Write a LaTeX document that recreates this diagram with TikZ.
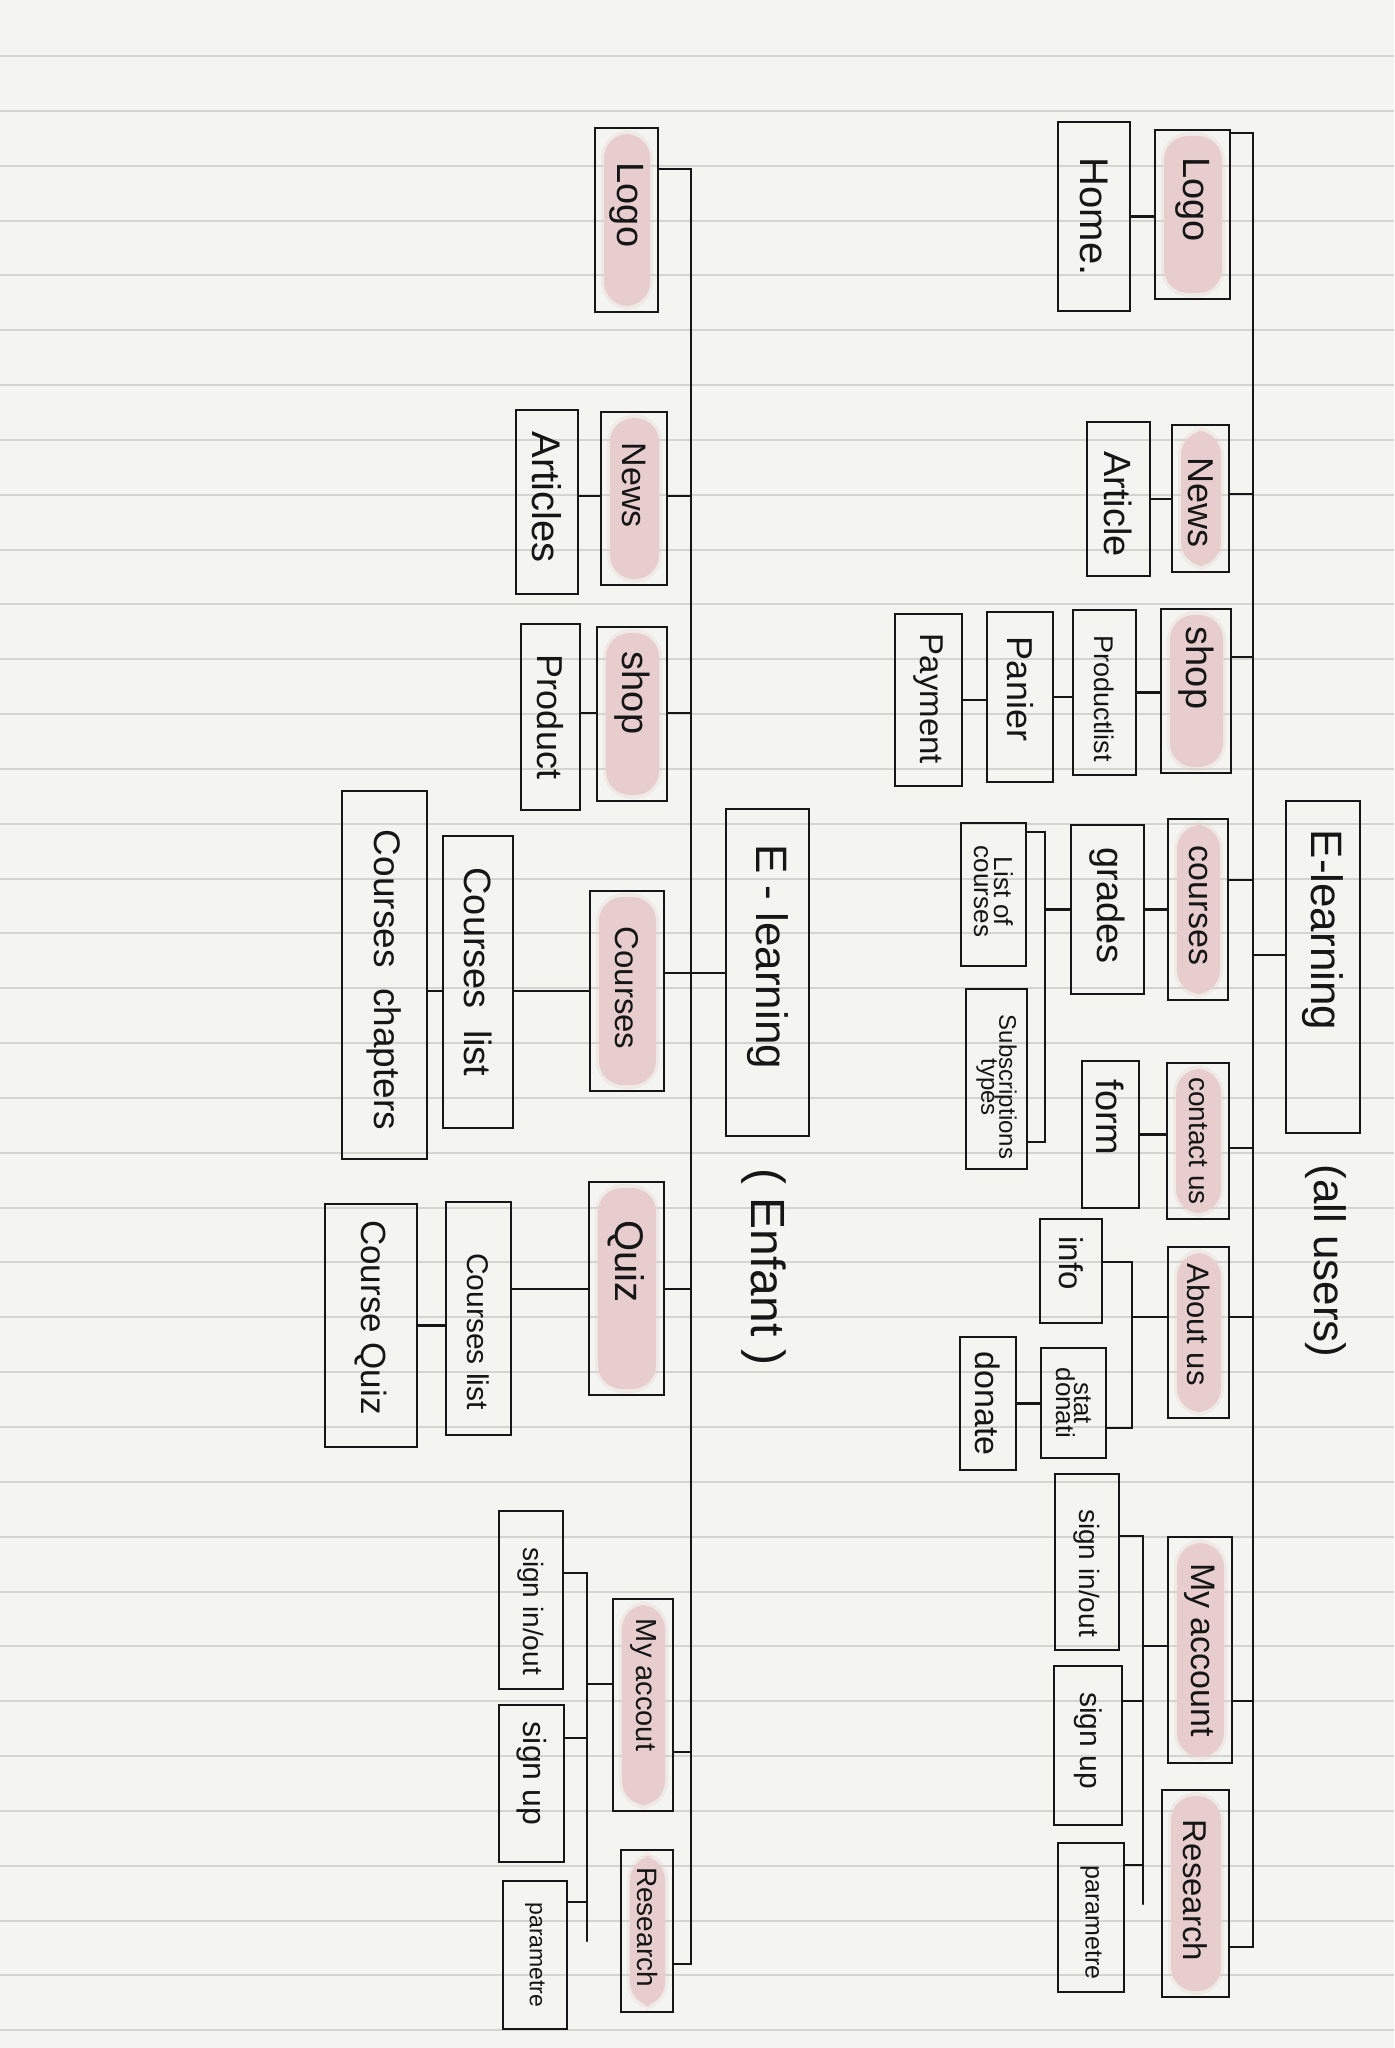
\documentclass[tikz,border=0pt]{standalone}
\usepackage{fontspec}
\setmainfont{Liberation Sans}
\usetikzlibrary{fit}
\definecolor{paper}{RGB}{244,244,240}
\definecolor{ruling}{RGB}{212,212,208}
\definecolor{ink}{RGB}{22,22,22}
\definecolor{hlpink}{RGB}{231,205,206}
\tikzset{
  box/.style={draw=ink, line width=1.3pt, inner sep=0pt},
  lbl/.style={text=ink, inner sep=0pt, align=center},
  wire/.style={draw=ink, line width=1.2pt, line cap=round},
  ruleline/.style={draw=ruling, line width=1pt},
  soft/.style={fill=hlpink, opacity=0.25, rounded corners=14pt},
  core/.style={fill=hlpink, rounded corners=12pt},
}
\newcommand{\hlfill}[4]{%
  \fill[soft] ({#1+6},{#2+2}) rectangle ({#3-5},{#4-2});
  \fill[core] ({#1+9},{#2+6}) rectangle ({#3-8},{#4-6});
}
\newcommand{\mybox}[8]{%
  \node[box, fit={(#2,#3) (#4,#5)}] (#1) {};
  \path (#1.center) ++(0,#8) node[lbl, rotate=-90, font=\fontsize{#7}{#7}\selectfont] (#1-t) {#6};
}
\newcommand{\pinkbox}[8]{\hlfill{#2}{#3}{#4}{#5}\mybox{#1}{#2}{#3}{#4}{#5}{#6}{#7}{#8}}
\begin{document}
\begin{tikzpicture}[x=0.5pt,y=-0.5pt]
\useasboundingbox (0,0) rectangle (1394,2048);
\fill[paper] (0,0) rectangle (1394,2048);
\foreach \k in {0,...,36} \draw[ruleline] (0,{56+54.84*\k}) -- (1394,{56+54.84*\k});

% ---------------- right tree (all users) ----------------
\mybox{rhome}{1058}{122}{1130}{311}{Home.}{20}{0}
\pinkbox{rlogo}{1155}{130}{1230}{299}{Logo}{19}{-15}
\pinkbox{rnews}{1172}{425}{1229}{572}{News}{18}{4}
\mybox{rarticle}{1087}{422}{1150}{576}{Article}{19}{5}
\pinkbox{rshop}{1161}{609}{1231}{773}{shop}{19}{-23}
\mybox{rprod}{1073}{610}{1136}{775}{Productlist}{13.5}{6}
\mybox{rpanier}{987}{612}{1053}{782}{Panier}{18}{-8}
\mybox{rpay}{895}{614}{962}{786}{Payment}{16.5}{-1}
\pinkbox{rcourses}{1168}{819}{1228}{1000}{courses}{17}{-4}
\mybox{rgrades}{1071}{825}{1144}{994}{grades}{19}{-4}
\mybox{rloc}{961}{823}{1026}{966}{List of\\[-3pt]courses}{13}{-3}
\mybox{rsub}{966}{989}{1027}{1169}{Subscriptions\\[-3pt]types}{12}{8}
\mybox{rform}{1082}{1061}{1139}{1208}{form}{19}{-17}
\pinkbox{rcontact}{1167}{1063}{1229}{1219}{contact us}{14}{0}
\pinkbox{rabout}{1168}{1247}{1229}{1418}{About us}{15.5}{-8}
\mybox{rinfo}{1040}{1219}{1102}{1323}{info}{16.5}{-8}
\mybox{rstat}{1041}{1348}{1106}{1458}{stat\\[-4pt]donati}{13}{0}
\mybox{rdonate}{960}{1337}{1016}{1470}{donate}{17}{0}
\pinkbox{racc}{1168}{1537}{1232}{1763}{My account}{17}{0}
\pinkbox{rres}{1162}{1790}{1229}{1997}{Research}{16.5}{-3}
\mybox{rsignin}{1055}{1474}{1119}{1650}{sign in/out}{14}{11}
\mybox{rsignup}{1054}{1666}{1122}{1825}{sign up}{15}{-5}
\mybox{rparam}{1058}{1843}{1124}{1992}{parametre}{12.5}{5}
\mybox{relearn}{1286}{801}{1360}{1133}{E-learning}{22}{-37}
\node[lbl, rotate=-90, font=\fontsize{22}{22}\selectfont] (rall) at (1326,1261) {(all users)};

% right trunk
\coordinate (rT1) at (1253,133);
\coordinate (rT2) at (1253,1947);
\draw[wire] (rT1) -- (rT2);
\coordinate (rb-logo) at (1253,133);
\coordinate (rb-news) at (1253,494);
\coordinate (rb-shop) at (1253,657);
\coordinate (rb-courses) at (1253,880);
\coordinate (rb-elearn) at (1253,955);
\coordinate (rb-contact) at (1253,1148);
\coordinate (rb-about) at (1253,1317);
\coordinate (rb-acc) at (1253,1701);
\coordinate (rb-res) at (1253,1947);
\draw[wire] (rb-logo -| rlogo.east) -- (rb-logo);
\draw[wire] (rb-news -| rnews.east) -- (rb-news);
\draw[wire] (rb-shop -| rshop.east) -- (rb-shop);
\draw[wire] (rb-courses -| rcourses.east) -- (rb-courses);
\draw[wire] (rb-elearn -| relearn.west) -- (rb-elearn);
\draw[wire] (rb-contact -| rcontact.east) -- (rb-contact);
\draw[wire] (rb-about -| rabout.east) -- (rb-about);
\draw[wire] (rb-acc -| racc.east) -- (rb-acc);
\draw[wire] (rb-res -| rres.east) -- (rb-res);

% right children
\draw[wire] (rhome.east) -- (rhome.east -| rlogo.west);
\draw[wire] (rarticle.east) -- (rarticle.east -| rnews.west);
\draw[wire] (rprod.east) -- (rprod.east -| rshop.west);
\draw[wire] (rpanier.east) -- (rpanier.east -| rprod.west);
\draw[wire] (rpay.east) -- (rpay.east -| rpanier.west);
\draw[wire] (rgrades.east) -- (rgrades.east -| rcourses.west);
\coordinate (gbT) at (1045,832);
\coordinate (gbB) at (1045,1142);
\draw[wire] (gbT -| rloc.east) -- (gbT) -- (gbB) -- (gbB -| rsub.east);
\draw[wire] (rgrades.west) -- (rgrades.west -| gbT);
\draw[wire] (rform.east) -- (rform.east -| rcontact.west);
\coordinate (abT) at (1132,1262);
\coordinate (abB) at (1132,1428);
\coordinate (abM) at (1132,1317);
\draw[wire] (abT -| rinfo.east) -- (abT) -- (abB) -- (abB -| rstat.east);
\draw[wire] (abM) -- (abM -| rabout.west);
\draw[wire] (rdonate.east) -- (rdonate.east -| rstat.west);
\coordinate (acT) at (1143,1536);
\coordinate (acB) at (1143,1904);
\coordinate (acM) at (1143,1646);
\coordinate (acU) at (1143,1701);
\coordinate (acP) at (1143,1865);
\draw[wire] (acT -| rsignin.east) -- (acT) -- (acB);
\draw[wire] (acU -| rsignup.east) -- (acU);
\draw[wire] (acP -| rparam.east) -- (acP);
\draw[wire] (acM) -- (acM -| racc.west);

% ---------------- left tree (Enfant) ----------------
\pinkbox{llogo}{595}{128}{658}{312}{Logo}{19}{-15}
\pinkbox{lnews}{601}{412}{667}{585}{News}{17}{-13}
\mybox{larticles}{516}{410}{578}{594}{Articles}{20}{-5}
\pinkbox{lshop}{597}{627}{667}{801}{shop}{19}{-21}
\mybox{lproduct}{521}{624}{580}{810}{Product}{18}{0}
\pinkbox{lcourses}{590}{891}{664}{1091}{Courses}{16.5}{-3}
\mybox{lclist}{443}{836}{513}{1128}{Courses\ \ list}{19}{-10}
\mybox{lcchap}{342}{791}{427}{1159}{Courses\ \ chapters}{18.5}{5}
\mybox{lelearn}{726}{809}{809}{1136}{E - learning}{22}{-16}
\node[lbl, rotate=-90, font=\fontsize{24}{24}\selectfont] (lenfant) at (764,1267) {( Enfant )};
\pinkbox{lquiz}{589}{1182}{664}{1395}{Quiz}{20}{-27}
\mybox{lqlist}{446}{1202}{511}{1435}{Courses list}{15}{13}
\mybox{lcquiz}{325}{1204}{417}{1447}{Course Quiz}{17.5}{-8}
\pinkbox{lacc}{613}{1599}{673}{1811}{My accout}{14.5}{-20}
\pinkbox{lres}{621}{1850}{673}{2012}{Research}{14}{-4}
\mybox{lsignin}{499}{1511}{563}{1689}{sign in/out}{14}{11}
\mybox{lsignup}{499}{1705}{564}{1862}{sign up}{16}{-10}
\mybox{lparam}{503}{1881}{567}{2029}{parametre}{11.5}{0}

% left trunk
\coordinate (lT1) at (691,169);
\coordinate (lT2) at (691,1964);
\draw[wire] (lT1) -- (lT2);
\coordinate (lb-logo) at (691,169);
\coordinate (lb-news) at (691,496);
\coordinate (lb-shop) at (691,713);
\coordinate (lb-courses) at (691,973);
\coordinate (lb-quiz) at (691,1289);
\coordinate (lb-acc) at (691,1752);
\coordinate (lb-res) at (691,1964);
\draw[wire] (lb-logo -| llogo.east) -- (lb-logo);
\draw[wire] (lb-news -| lnews.east) -- (lb-news);
\draw[wire] (lb-shop -| lshop.east) -- (lb-shop);
\draw[wire] (lb-courses -| lcourses.east) -- (lb-courses -| lelearn.west);
\draw[wire] (lb-quiz -| lquiz.east) -- (lb-quiz);
\draw[wire] (lb-acc -| lacc.east) -- (lb-acc);
\draw[wire] (lb-res -| lres.east) -- (lb-res);

% left children
\draw[wire] (lb-news -| larticles.east) -- (lb-news -| lnews.west);
\draw[wire] (lb-shop -| lproduct.east) -- (lb-shop -| lshop.west);
\draw[wire] (lcourses.west) -- (lcourses.west -| lclist.east);
\draw[wire] (lcourses.west -| lclist.west) -- (lcourses.west -| lcchap.east);
\draw[wire] (lb-quiz -| lquiz.west) -- (lb-quiz -| lqlist.east);
\draw[wire] (lcquiz.east) -- (lcquiz.east -| lqlist.west);
\coordinate (laT) at (587,1573);
\coordinate (laB) at (587,1941);
\coordinate (laM) at (587,1684);
\coordinate (laU) at (587,1738);
\coordinate (laP) at (587,1902);
\draw[wire] (laT -| lsignin.east) -- (laT) -- (laB);
\draw[wire] (laU -| lsignup.east) -- (laU);
\draw[wire] (laP -| lparam.east) -- (laP);
\draw[wire] (laM) -- (laM -| lacc.west);
\end{tikzpicture}
\end{document}
